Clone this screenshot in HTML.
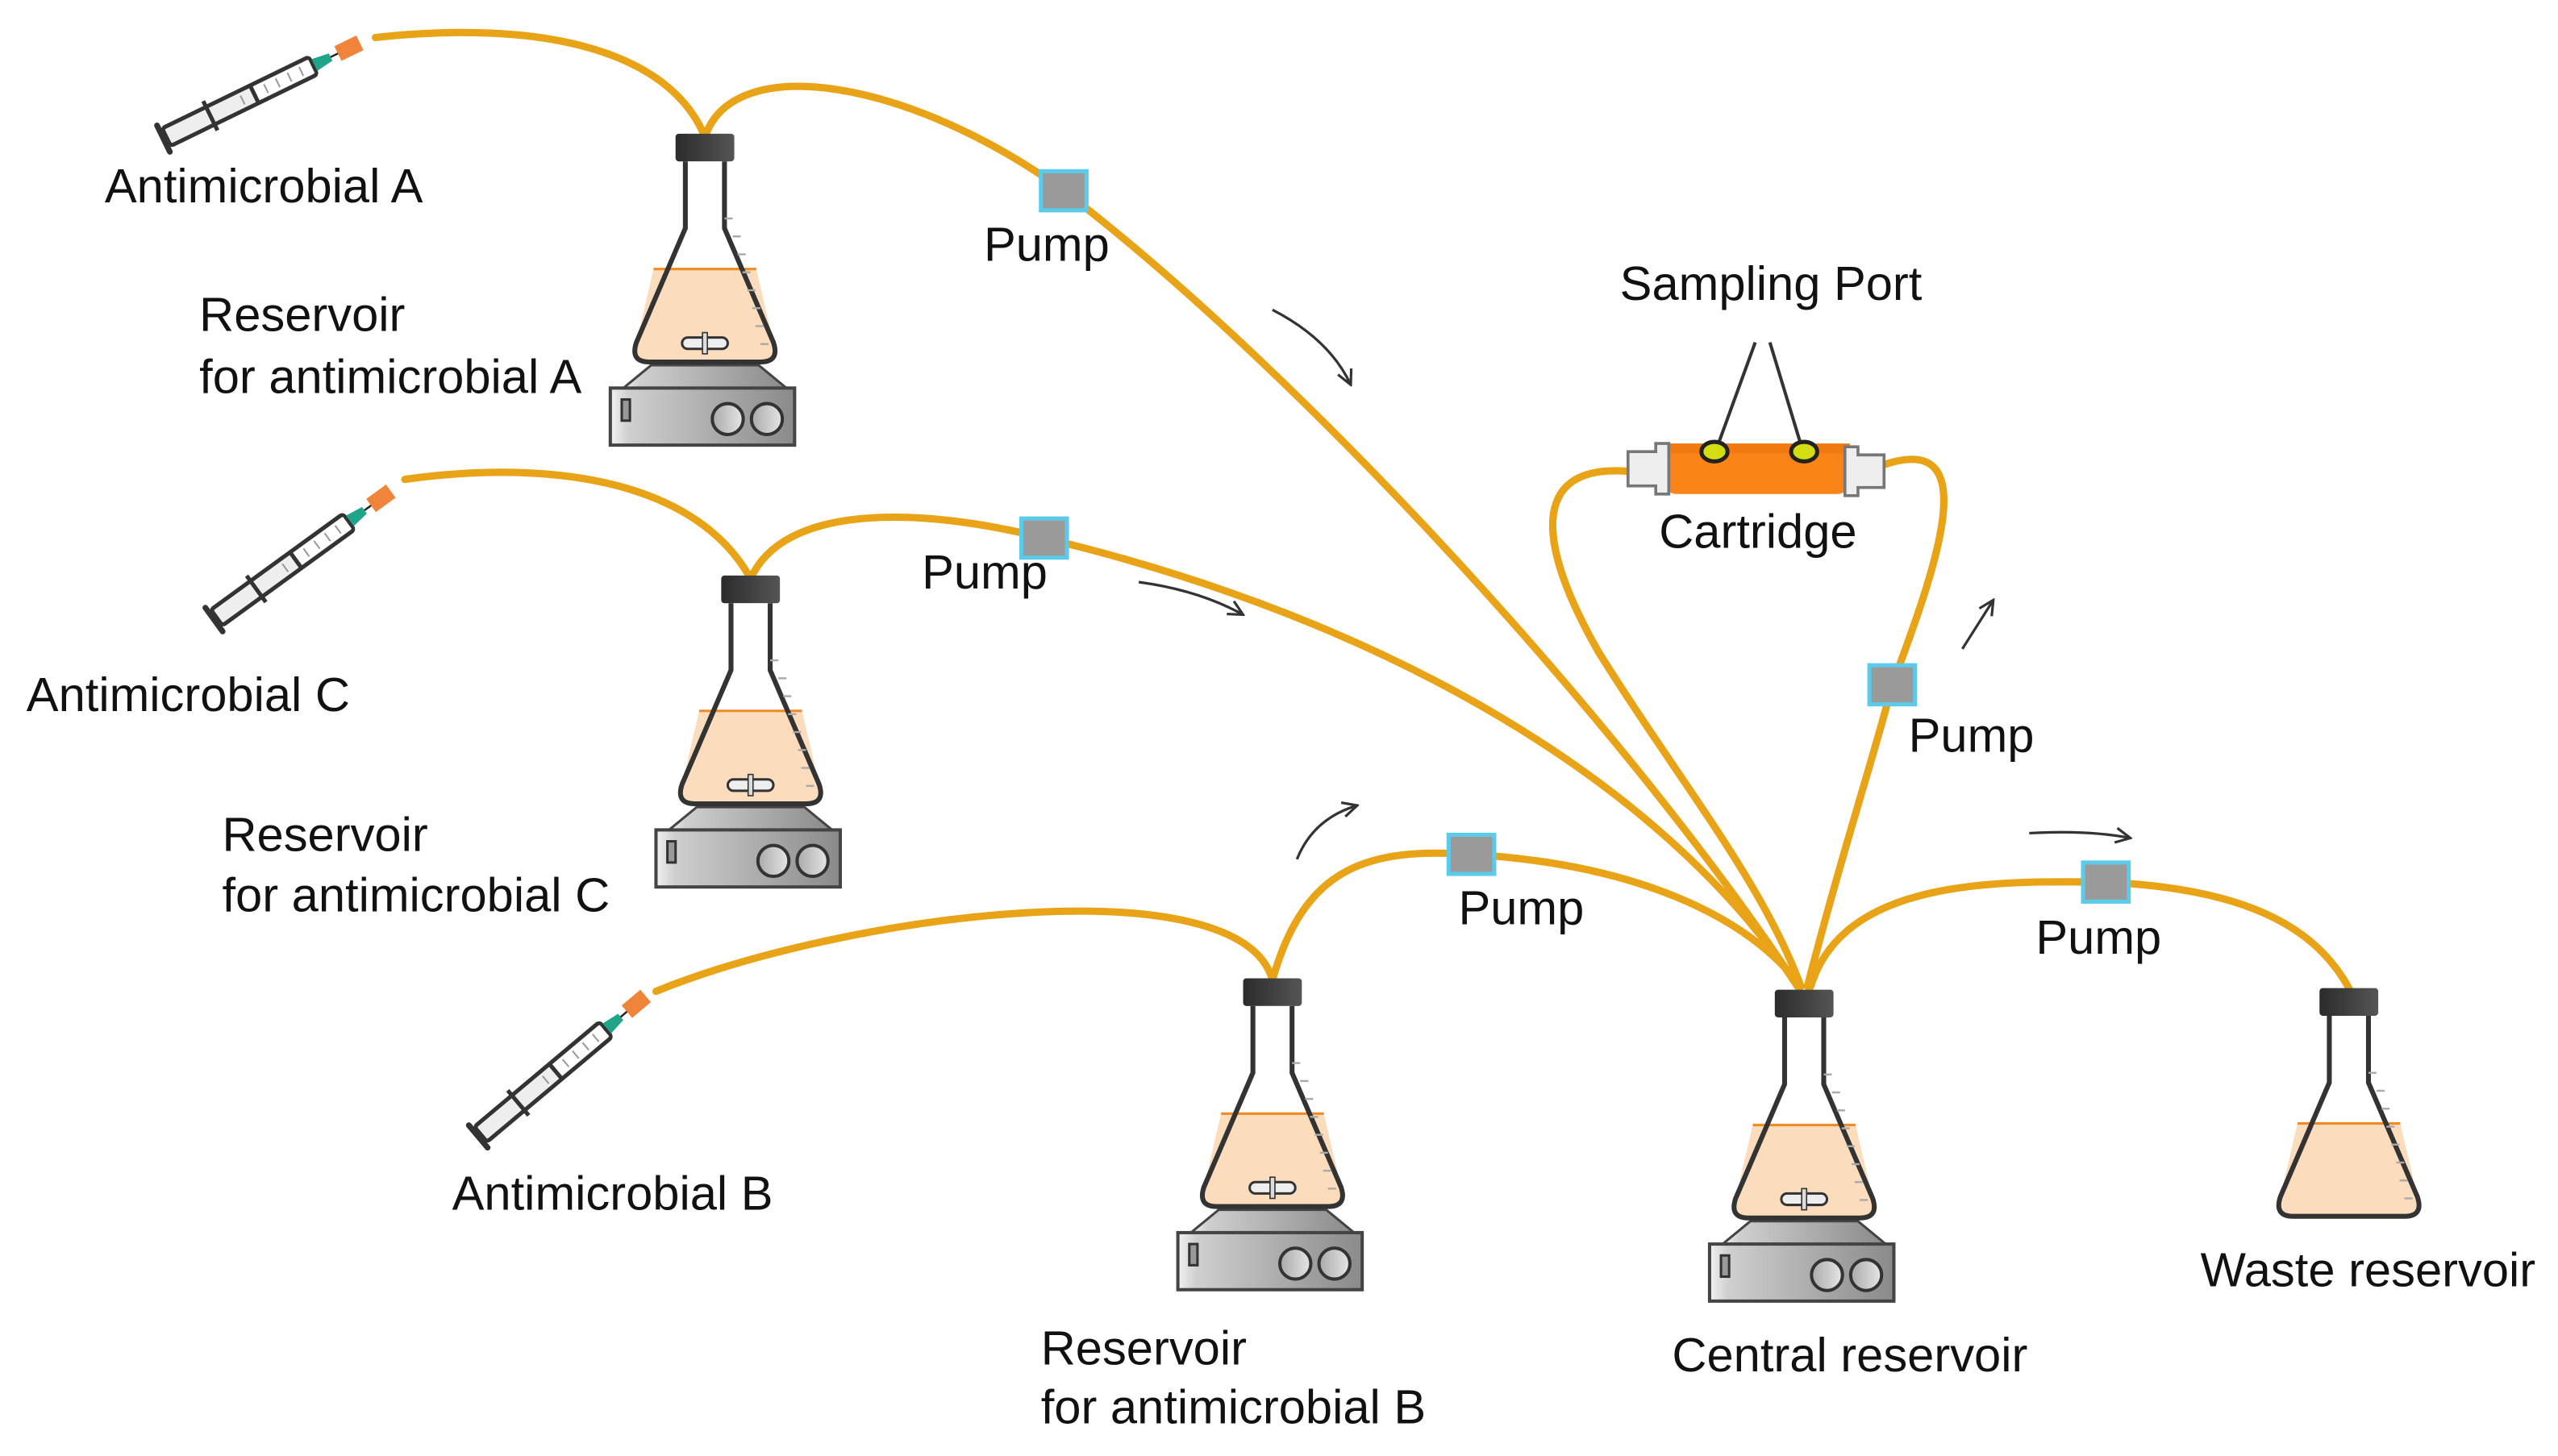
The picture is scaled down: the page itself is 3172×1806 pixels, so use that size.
<!DOCTYPE html>
<html><head><meta charset="utf-8"><style>
html,body{margin:0;padding:0;background:#fff;}
svg{display:block;}
text{font-family:"Liberation Sans",Arial,sans-serif;font-size:29.5px;fill:#111;}
</style></head><body>
<svg width="3172" height="1806" viewBox="0 0 1568 893" xmlns="http://www.w3.org/2000/svg">
<defs>
<linearGradient id="plg" x1="0" x2="1" y1="0" y2="0">
<stop offset="0" stop-color="#f2f2f2"/><stop offset="0.1" stop-color="#cfcfcf"/><stop offset="1" stop-color="#8a8a8a"/></linearGradient>
<linearGradient id="knob" x1="0" x2="1"><stop offset="0" stop-color="#aaa"/><stop offset="1" stop-color="#e6e6e6"/></linearGradient>
<linearGradient id="stop" x1="0" x2="1"><stop offset="0" stop-color="#2b2b2b"/><stop offset="1" stop-color="#555"/></linearGradient>
<g id="flask">
<rect x="-18" y="0" width="36" height="17" fill="url(#stop)" rx="2"/>
<path d="M-12,17 L-12,58 L-42,128 Q-46,140 -34,140 L34,140 Q46,140 42,128 L12,58 L12,17 Z" fill="#fff"/>
<path d="M-31.5,83 L31.5,83 L42,128 Q46,140 34,140 L-34,140 Q-46,140 -42,128 Z" fill="#fbdcbd"/>
<line x1="-31.5" y1="83" x2="31.5" y2="83" stroke="#f08a24" stroke-width="1.5"/>
<path d="M-12,17 L-12,58 L-42,128 Q-46,140 -34,140 L34,140 Q46,140 42,128 L12,58 L12,17" fill="none" stroke="#333" stroke-width="3"/>
<g stroke="#aaa" stroke-width="1.2"><line x1="12" y1="52" x2="17" y2="52"/><line x1="17" y1="63" x2="22" y2="63"/><line x1="20" y1="74" x2="25" y2="74"/><line x1="23" y1="85" x2="28" y2="85"/><line x1="26" y1="96" x2="31" y2="96"/><line x1="29" y1="107" x2="34" y2="107"/><line x1="31" y1="118" x2="36" y2="118"/><line x1="34" y1="129" x2="39" y2="129"/></g>
</g>
<g id="stir"><rect x="-14" y="125" width="28" height="7" rx="3.5" fill="#eee" stroke="#333" stroke-width="1.5"/><rect x="-1.5" y="122" width="3" height="13" fill="#ddd" stroke="#333" stroke-width="0.8"/></g>
<g id="hplate">
<path d="M-33,142 L33,142 L50,156 L-50,156 Z" fill="url(#plg)" stroke="#444" stroke-width="1.5"/>
<rect x="-58" y="156" width="113" height="35" fill="url(#plg)" stroke="#444" stroke-width="2"/>
<rect x="-51" y="163" width="5" height="13" fill="#999" stroke="#333" stroke-width="1.5"/>
<circle cx="14" cy="175" r="9.5" fill="url(#knob)" stroke="#333" stroke-width="2"/>
<circle cx="38" cy="175" r="9.5" fill="url(#knob)" stroke="#333" stroke-width="2"/>
</g>
<g id="syr">
<line x1="0" y1="-9" x2="0" y2="9" stroke="#333" stroke-width="3.5" stroke-linecap="round"/>
<rect x="2" y="-6" width="100" height="12" rx="2" fill="#eee" stroke="#333" stroke-width="2.5"/>
<rect x="62" y="-4.5" width="39" height="9" fill="#fff"/>
<line x1="32" y1="-10" x2="32" y2="10" stroke="#333" stroke-width="2.5"/>
<line x1="62" y1="-6" x2="62" y2="6" stroke="#333" stroke-width="2.5"/>
<g stroke="#999" stroke-width="1"><line x1="54" y1="-3" x2="54" y2="3"/><line x1="70" y1="-3" x2="70" y2="3"/><line x1="78" y1="-3" x2="78" y2="3"/><line x1="86" y1="-3" x2="86" y2="3"/><line x1="94" y1="-3" x2="94" y2="3"/></g>
<path d="M103,-4 L114,-2.5 L114,2.5 L103,4 Z" fill="#1fa58a"/>
<line x1="114" y1="0" x2="120" y2="0" stroke="#222" stroke-width="1.2"/>
<rect x="119" y="-5" width="15" height="10" fill="#f0843a"/>
</g>
<g id="pump"><rect x="-14" y="-12" width="28" height="24" fill="#9a9a9a" stroke="#5ccbeb" stroke-width="2.5"/></g>
<marker id="ah" viewBox="0 0 10 10" refX="9" refY="5" markerWidth="7" markerHeight="7" orient="auto"><path d="M1,1 L9,5 L1,9" fill="none" stroke="#333" stroke-width="1.4"/></marker>
</defs>

<g fill="none" stroke="#e8a317" stroke-width="4.5" stroke-linecap="round">
<path d="M230,23 C330,12 410,30 432,84"/>
<path d="M432,84 C450,30 560,50 652,117 C800,230 1000,450 1102,605"/>
<path d="M248,294 C350,280 430,300 460,355"/>
<path d="M460,355 C480,310 560,310 640,330 C850,380 1020,480 1102,605"/>
<path d="M402,608 C520,560 760,530 780,601"/>
<path d="M780,601 C800,530 840,520 902,524 C1000,530 1070,560 1104,605"/>
<path d="M1108,605 C1130,520 1150,460 1160,420 C1190,340 1215,265 1155,285"/>
<path d="M997,289 C940,285 940,330 980,400 C1030,480 1080,540 1104,605"/>
<path d="M1110,605 C1130,540 1220,540 1290,541 C1380,545 1420,570 1440,606"/>
</g>

<use href="#hplate" x="432" y="82"/><use href="#flask" x="432" y="82"/><use href="#stir" x="432" y="82"/>
<use href="#hplate" x="460" y="353"/><use href="#flask" x="460" y="353"/><use href="#stir" x="460" y="353"/>
<use href="#hplate" x="780" y="600"/><use href="#flask" x="780" y="600"/><use href="#stir" x="780" y="600"/>
<use href="#hplate" x="1106" y="607"/><use href="#flask" x="1106" y="607"/><use href="#stir" x="1106" y="607"/>
<use href="#flask" x="1440" y="606"/>

<g transform="translate(100,85) rotate(-26)"><use href="#syr"/></g>
<g transform="translate(131,380) rotate(-36)"><use href="#syr"/></g>
<g transform="translate(293,697) rotate(-40)"><use href="#syr"/></g>

<use href="#pump" x="652" y="117"/>
<use href="#pump" x="640" y="330"/>
<use href="#pump" x="902" y="524"/>
<use href="#pump" x="1160" y="420"/>
<use href="#pump" x="1291" y="541"/>

<g fill="none" stroke="#333" stroke-width="1.6" marker-end="url(#ah)">
<path d="M780,190 Q815,208 828,236"/>
<path d="M698,357 Q735,362 762,377"/>
<path d="M795,527 Q805,502 832,494"/>
<path d="M1203,398 L1222,368"/>
<path d="M1244,511 Q1280,509 1306,514"/>
</g>

<g>
<line x1="1052" y1="276" x2="1076" y2="210" stroke="#333" stroke-width="2"/>
<line x1="1105" y1="276" x2="1085" y2="210" stroke="#333" stroke-width="2"/>
<rect x="1018" y="272" width="118" height="31" rx="10" fill="#fa8418"/>
<rect x="1020" y="272" width="114" height="6" fill="#f07a10"/>
<path d="M998,277 L1015,277 L1015,272 L1023,272 L1023,303 L1015,303 L1015,298 L998,298 Z" fill="#eee" stroke="#777" stroke-width="1.8"/>
<path d="M1155,279 L1139,279 L1139,274 L1131,274 L1131,304 L1139,304 L1139,299 L1155,299 Z" fill="#eee" stroke="#777" stroke-width="1.8"/>
<ellipse cx="1051" cy="277" rx="8" ry="6" fill="#d4dd10" stroke="#222" stroke-width="2.5"/>
<ellipse cx="1106" cy="277" rx="8" ry="6" fill="#d4dd10" stroke="#222" stroke-width="2.5"/>
</g>

<text x="64" y="124">Antimicrobial A</text>
<text x="122" y="203">Reservoir</text>
<text x="122" y="241">for antimicrobial A</text>
<text x="603" y="160">Pump</text>
<text x="16" y="436">Antimicrobial C</text>
<text x="136" y="522">Reservoir</text>
<text x="136" y="559">for antimicrobial C</text>
<text x="565" y="361">Pump</text>
<text x="894" y="567">Pump</text>
<text x="277" y="742">Antimicrobial B</text>
<text x="638" y="837">Reservoir</text>
<text x="638" y="873">for antimicrobial B</text>
<text x="1025" y="841">Central reservoir</text>
<text x="1349" y="789">Waste reservoir</text>
<text x="1170" y="461">Pump</text>
<text x="1248" y="585">Pump</text>
<text x="993" y="184">Sampling Port</text>
<text x="1017" y="336">Cartridge</text>
</svg>
</body></html>
